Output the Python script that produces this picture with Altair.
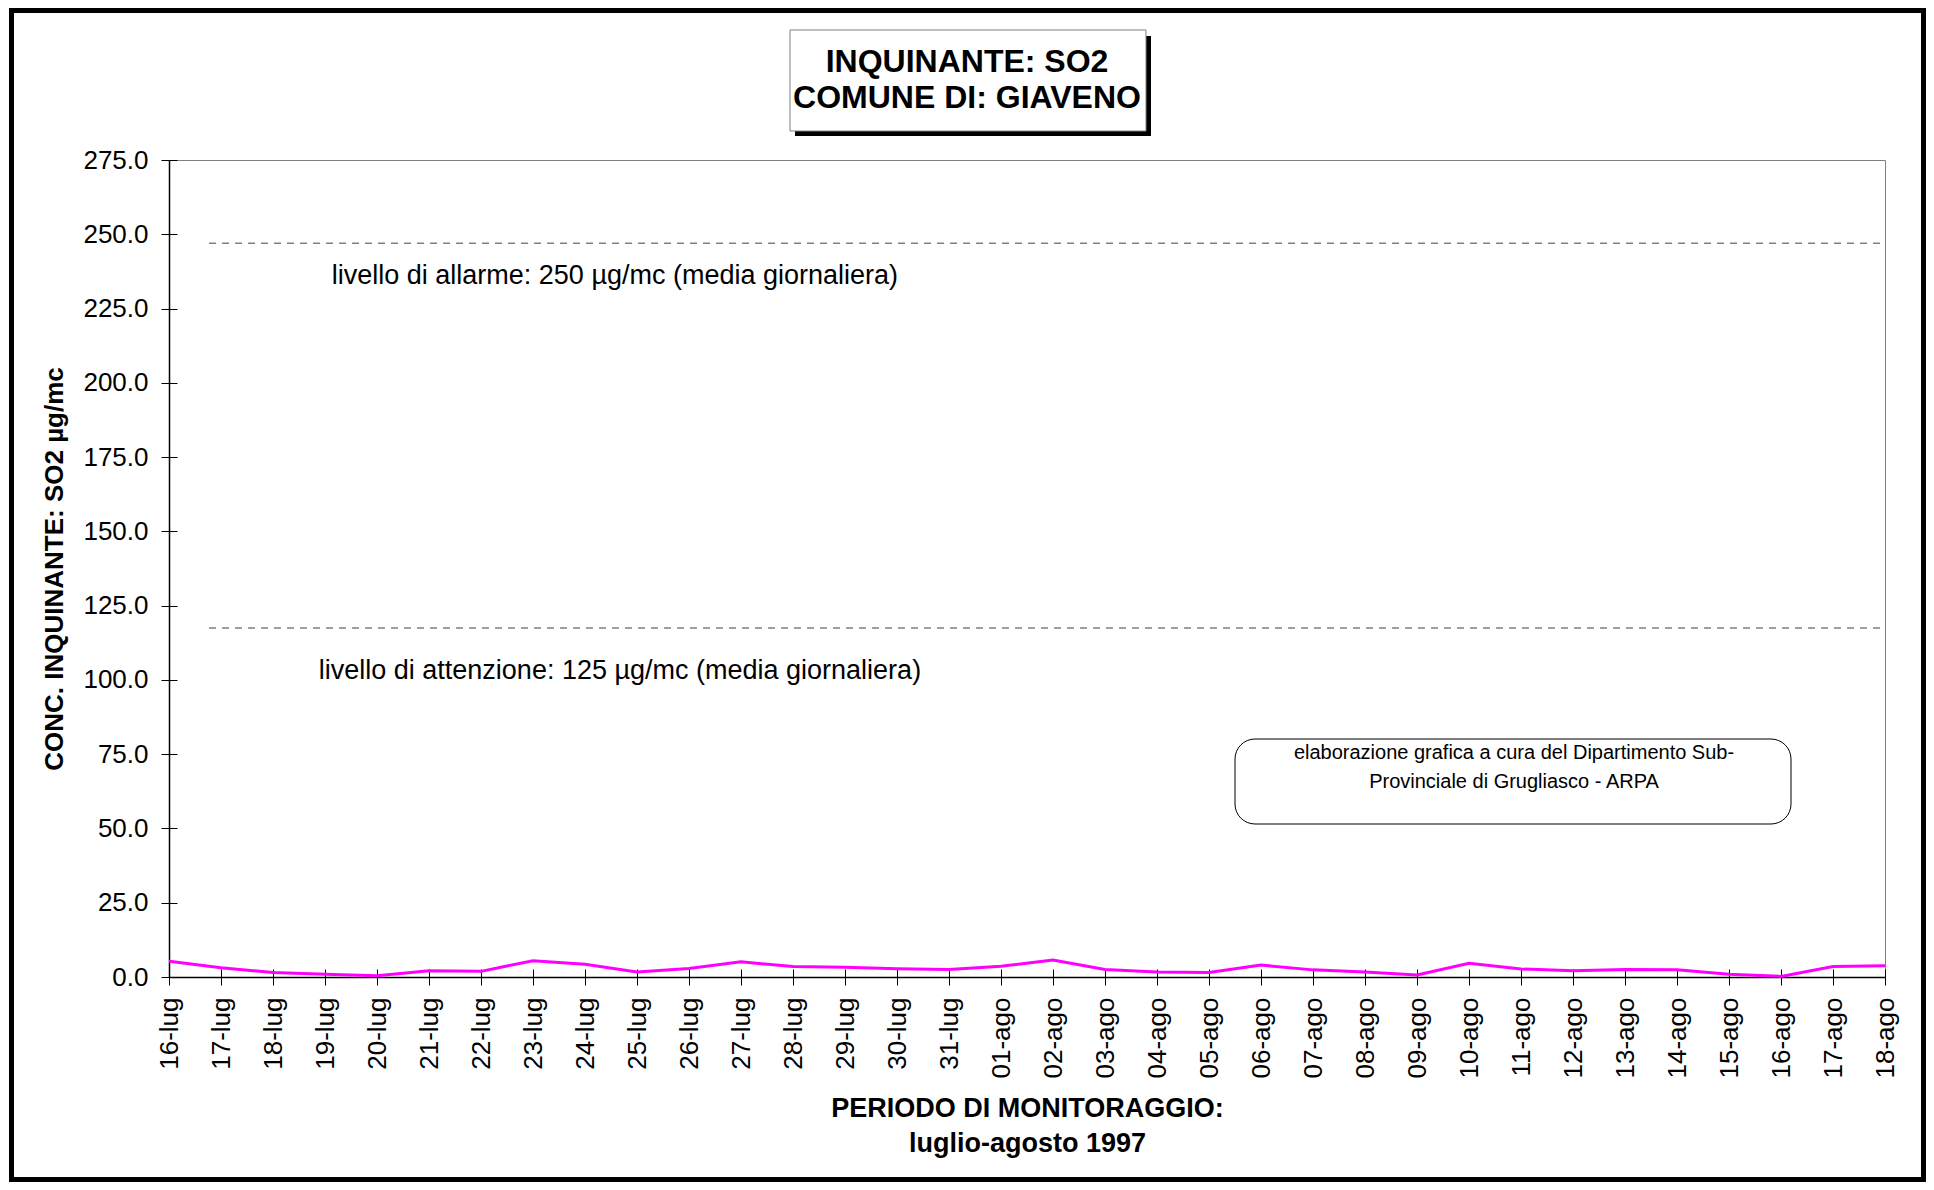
import altair as alt
import pandas as pd

# ---------------- data ----------------
dates = ["16-lug", "17-lug", "18-lug", "19-lug", "20-lug", "21-lug", "22-lug", "23-lug",
         "24-lug", "25-lug", "26-lug", "27-lug", "28-lug", "29-lug", "30-lug", "31-lug",
         "01-ago", "02-ago", "03-ago", "04-ago", "05-ago", "06-ago", "07-ago", "08-ago",
         "09-ago", "10-ago", "11-ago", "12-ago", "13-ago", "14-ago", "15-ago", "16-ago",
         "17-ago", "18-ago"]
so2 = [5.3, 3.1, 1.5, 0.9, 0.4, 2.1, 1.9, 5.5, 4.3, 1.7, 2.9, 5.1, 3.5, 3.3, 2.8, 2.5,
       3.6, 5.7, 2.5, 1.7, 1.5, 4.0, 2.4, 1.7, 0.7, 4.6, 2.7, 2.1, 2.5, 2.4, 0.9, 0.2,
       3.5, 3.8]

level_y = [247, 117.5]
level_x0 = [0.77, 0.77]
level_x1 = [33, 33]
level_text = ["livello di allarme: 250 µg/mc (media giornaliera)",
              "livello di attenzione: 125 µg/mc (media giornaliera)"]
level_text_x = [3.13, 2.88]
level_text_y = [236, 103]

title_lines = ["INQUINANTE: SO2", "COMUNE DI: GIAVENO"]
credit_lines = ["elaborazione grafica a cura del Dipartimento Sub-",
                "Provinciale di Grugliasco - ARPA"]
y_ticks = list(range(0, 276, 25))
x_title = ["PERIODO DI MONITORAGGIO:", "luglio-agosto 1997"]
y_title = "CONC. INQUINANTE: SO2 µg/mc"

FONT = "Liberation Sans"
W, H = 1716, 817

df = pd.DataFrame({"i": list(range(len(dates))), "date": dates, "v": so2})
rdf = pd.DataFrame({"x0": level_x0, "x1": level_x1, "y": level_y})
tdf = pd.DataFrame({"x": level_text_x, "y": level_text_y, "t": level_text})
dummy = pd.DataFrame({"k": [0]})

label_expr = "[" + ",".join("'%s'" % d for d in dates) + "][datum.value]"

xscale = alt.Scale(domain=[0, len(dates) - 1], nice=False, zero=False)
yscale = alt.Scale(domain=[0, 275], nice=False)

line = alt.Chart(df).mark_line(color="#FF00FF", strokeWidth=3).encode(
    x=alt.X("i:Q", scale=xscale, axis=alt.Axis(
        orient="bottom",
        values=list(range(len(dates))), labelExpr=label_expr, labelAngle=270,
        labelFontSize=26, labelPadding=12, tickSize=8, labelFlush=False,
        labelOverlap=False, labelColor="black", domainColor="black", domainWidth=1.5,
        tickColor="black", tickWidth=1, grid=False,
        title=x_title, titleX=858, titleY=118, titleBaseline="top", titleAlign="center",
        titleFontSize=27, titleFontWeight="bold", titleLineHeight=35, titleColor="black")),
    y=alt.Y("v:Q", scale=yscale, axis=alt.Axis(
        orient="left",
        values=y_ticks, format=".1f", labelFontSize=26, labelPadding=13, tickSize=8,
        labelFlush=False, labelOverlap=False, labelColor="black", domainColor="black",
        domainWidth=1.5, tickColor="black", tickWidth=1, grid=False,
        title=y_title, titleX=-115, titleY=H / 2, titleAngle=270, titleBaseline="middle",
        titleAlign="center", titleFontSize=26, titleFontWeight="bold", titleColor="black")),
)

rules = alt.Chart(rdf).mark_rule(color="#808080", strokeDash=[7, 6], strokeWidth=1.5).encode(
    x=alt.X("x0:Q", scale=xscale, axis=alt.Axis(
        orient="bottom", offset=-8, values=list(range(len(dates))), labels=False,
        domain=False, ticks=True, tickSize=8, tickColor="black", grid=False, title="")),
    x2="x1:Q",
    y=alt.Y("y:Q", scale=yscale, axis=alt.Axis(
        orient="left", offset=-8, values=y_ticks, labels=False, domain=False,
        ticks=True, tickSize=8, tickColor="black", grid=False, title="")),
)

level_texts = alt.Chart(tdf).mark_text(align="left", baseline="middle", fontSize=27,
                                       font=FONT, color="black").encode(
    x=alt.X("x:Q", scale=xscale, axis=None),
    y=alt.Y("y:Q", scale=yscale, axis=None),
    text="t:N",
)

frame = alt.Chart(dummy).mark_rect(filled=False, stroke="black", strokeWidth=5).encode(
    x=alt.value(-157.5), x2=alt.value(1754.5), y=alt.value(-149.5), y2=alt.value(1019.5))

title_shadow = alt.Chart(dummy).mark_rect(color="black").encode(
    x=alt.value(626), x2=alt.value(982), y=alt.value(-124), y2=alt.value(-24))
title_box = alt.Chart(dummy).mark_rect(fill="white", stroke="#808080", strokeWidth=1).encode(
    x=alt.value(621), x2=alt.value(977), y=alt.value(-130), y2=alt.value(-29))
title_t1 = alt.Chart(dummy).mark_text(fontSize=32, fontWeight="bold", font=FONT, align="center",
                                      baseline="middle", color="black").encode(
    x=alt.value(798), y=alt.value(-98), text=alt.value(title_lines[0]))
title_t2 = alt.Chart(dummy).mark_text(fontSize=32, fontWeight="bold", font=FONT, align="center",
                                      baseline="middle", color="black").encode(
    x=alt.value(798), y=alt.value(-62), text=alt.value(title_lines[1]))

credit_box = alt.Chart(dummy).mark_rect(fill="white", stroke="black", strokeWidth=1,
                                        cornerRadius=20).encode(
    x=alt.value(1066), x2=alt.value(1622), y=alt.value(579), y2=alt.value(664))
credit_t1 = alt.Chart(dummy).mark_text(fontSize=20, font=FONT, align="center",
                                       baseline="middle", color="black").encode(
    x=alt.value(1345), y=alt.value(593), text=alt.value(credit_lines[0]))
credit_t2 = alt.Chart(dummy).mark_text(fontSize=20, font=FONT, align="center",
                                       baseline="middle", color="black").encode(
    x=alt.value(1345), y=alt.value(622), text=alt.value(credit_lines[1]))

chart = alt.layer(
    frame, title_shadow, title_box, title_t1, title_t2, credit_box, credit_t1, credit_t2,
    rules, level_texts, line,
).resolve_axis(x="independent", y="independent").properties(
    width=W, height=H,
    autosize=alt.AutoSizeParams(type="none"),
    padding={"left": 161, "top": 152, "right": 41, "bottom": 205},
).configure(font=FONT, background="white").configure_view(stroke="#808080", strokeWidth=1)

chart.save("out.html", embed_options={"renderer": "svg", "actions": False})
